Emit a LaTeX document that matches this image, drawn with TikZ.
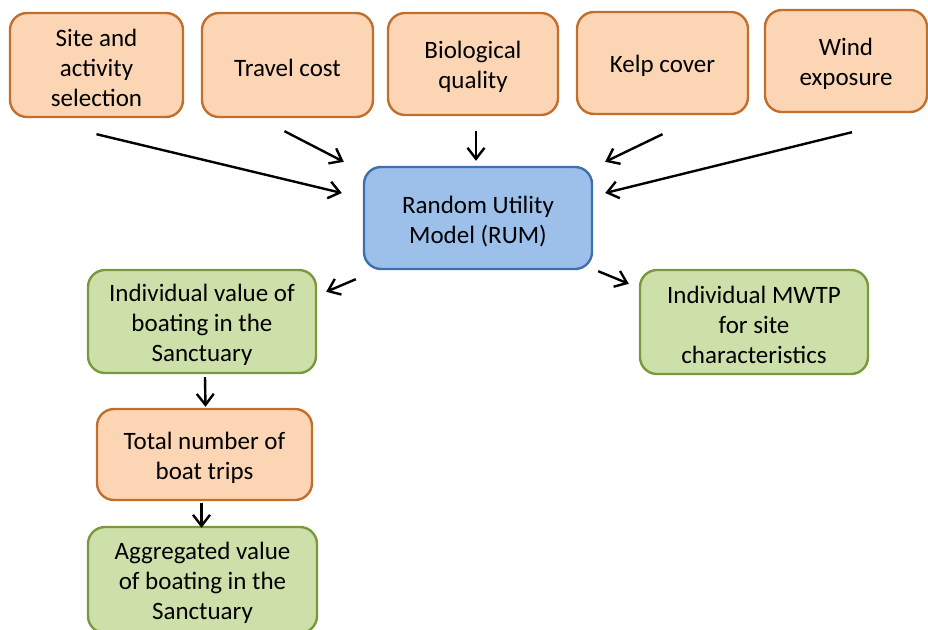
\documentclass[tikz,border=0pt]{standalone}
\usepackage{fontspec}
\setmainfont{Carlito}
\usetikzlibrary{arrows.meta,calc}
\definecolor{orfill}{HTML}{FCD5B5}
\definecolor{ordraw}{HTML}{C0702C}
\definecolor{grfill}{HTML}{CEE0AA}
\definecolor{grdraw}{HTML}{7A983E}
\definecolor{blfill}{HTML}{9CC0EA}
\definecolor{bldraw}{HTML}{3E70AE}
\newcommand\toppad{\rule{0pt}{24pt}}
\tikzset{
  box/.style={draw, line width=2.4pt, rounded corners=17pt, align=center,
    inner sep=0pt, font=\fontsize{25}{30}\selectfont},
  inbox/.style={box, fill=orfill, draw=ordraw},
  rumbox/.style={box, fill=blfill, draw=bldraw},
  outbox/.style={box, fill=grfill, draw=grdraw},
  arr/.style={-{Straight Barb[length=11pt,width=17pt,line width=2.4pt]}, line width=2.4pt}
}
\begin{document}
\begin{tikzpicture}[x=1pt,y=-1pt]
\useasboundingbox (0,0) rectangle (928,629);
\node[inbox, minimum width=173pt, minimum height=104pt] (site) at (96.5,65) {\toppad Site and\\activity\\selection};
\node[inbox, minimum width=171pt, minimum height=104pt] (travel) at (287.5,65) {\toppad Travel cost};
\node[inbox, minimum width=170pt, minimum height=102pt] (bio) at (473,64) {\toppad Biological\\quality};
\node[inbox, minimum width=171pt, minimum height=102pt] (kelp) at (662.5,63) {\toppad Kelp cover};
\node[inbox, minimum width=162pt, minimum height=102pt] (wind) at (846,61) {\toppad Wind\\exposure};
\node[rumbox, minimum width=228pt, minimum height=102pt] (rum) at (478,218) {\toppad Random Utility\\Model (RUM)};
\node[outbox, minimum width=228pt, minimum height=103pt] (indiv) at (202,321.5) {\toppad Individual value of\\boating in the\\Sanctuary};
\node[outbox, minimum width=228pt, minimum height=104pt] (mwtp) at (754,322) {\toppad Individual MWTP\\for site\\characteristics};
\node[inbox, minimum width=215pt, minimum height=91pt] (total) at (204.5,454.5) {\toppad Total number of\\boat trips};
\node[outbox, minimum width=229pt, minimum height=106pt] (agg) at (202.5,580) {\toppad Aggregated value\\of boating in the\\Sanctuary};
\draw[arr] ($(site.south)+(0,16)$) -- ($(rum.west)+(-21,-25)$);
\draw[arr] ($(travel.south)+(-3,13)$) -- ($(rum.north west)+(-19,-4)$);
\draw[arr] ($(bio.south)+(3,15)$) -- ($(rum.north)+(-2,-5)$);
\draw[arr] ($(kelp.south)+(0,19)$) -- ($(rum.north east)+(12,-4)$);
\draw[arr] ($(wind.south)+(6,19)$) -- ($(rum.east)+(12,-25)$);
\draw[arr] ($(rum.south west)+(-7,9)$) -- ($(indiv.north east)+(9,23)$);
\draw[arr] ($(rum.south east)+(5,1)$) -- ($(mwtp.north west)+(-10,15)$);
\draw[arr] ($(indiv.south)+(3,3)$) -- ($(total.north)+(1,-1)$);
\draw[arr] ($(total.south)+(-3,2)$) -- ($(agg.north)+(-1,2)$);
\end{tikzpicture}
\end{document}
